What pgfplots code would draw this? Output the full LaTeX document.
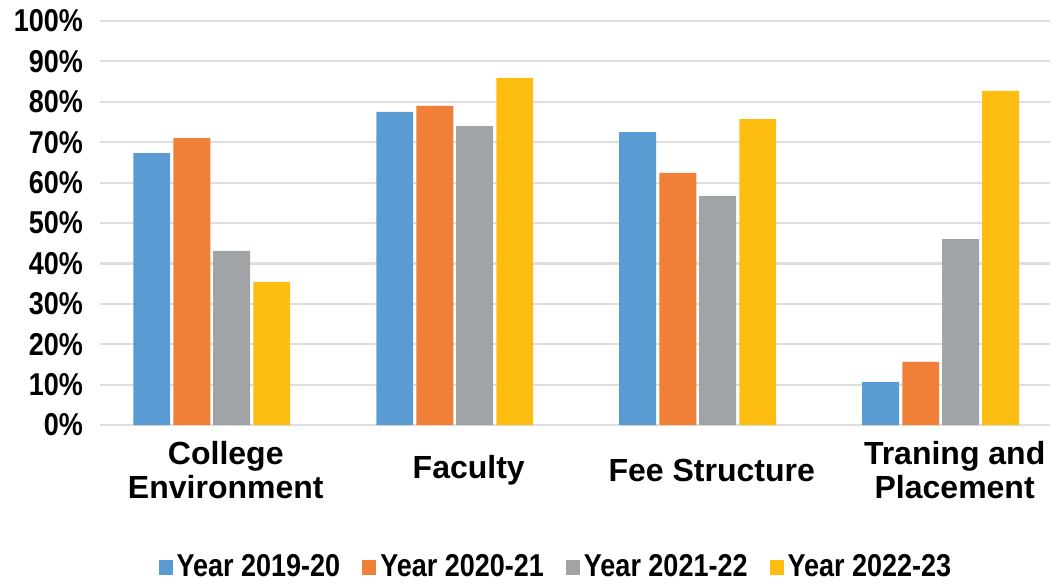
\documentclass[border=0pt]{standalone}
\usepackage{graphicx}
\usepackage{pgfplots}
\pgfplotsset{compat=1.18}
\usepackage{fontspec}
\setmainfont{Liberation Sans}
\definecolor{cblue}{HTML}{5A9BD3}
\definecolor{corange}{HTML}{F07F38}
\definecolor{cgray}{HTML}{A0A4A6}
\definecolor{cyellow}{HTML}{FDBD10}
\newcommand{\tall}[1]{\scalebox{1}[1.17]{#1}}
\begin{document}
\begin{tikzpicture}
\path (-50pt,-78pt) rectangle (476pt,212.5pt);
\begin{axis}[
  at={(0,0)}, anchor=south west,
  scale only axis, width=475pt, height=202pt,
  xmin=-0.46, xmax=3.45, ymin=0, ymax=100,
  ybar, bar width=0.152,
  legend image code/.code={\fill[#1] (0pt,-3.75pt) rectangle (7pt,3.75pt);},
  axis line style={draw=none},
  tick style={draw=none},
  ytick={0,10,...,100},
  ymajorgrids,
  major grid style={line width=1.1pt, color=black!13},
  /pgf/number format/assume math mode=true,
  yticklabel={\tall{\pgfmathprintnumber{\tick}\%}},
  yticklabel style={font=\fontsize{13.5}{14}\selectfont\bfseries, xshift=-5pt},
  xtick={0,1,2,3},
  xticklabels={{College\\Environment},Faculty,{Fee Structure},{Traning and\\Placement}},
  xticklabel style={font=\fontsize{16}{17}\selectfont\bfseries, align=center, anchor=center, yshift=-18.5pt, xshift=7pt},
  legend columns=4,
  legend style={at={(0.481,-0.3515)}, anchor=center, draw=none,
    font=\fontsize{13.5}{14}\selectfont\bfseries,
    /tikz/every even column/.append style={column sep=9pt}},
]
\addplot[fill=cblue, draw=none, bar shift=-0.247]
  coordinates {(0,67.3) (1,77.5) (2,72.5) (3,10.6)};
\addplot[fill=corange, draw=none, bar shift=-0.082]
  coordinates {(0,71.0) (1,79.0) (2,62.4) (3,15.6)};
\addplot[fill=cgray, draw=none, bar shift=0.082]
  coordinates {(0,43.1) (1,74.0) (2,56.7) (3,46.0)};
\addplot[fill=cyellow, draw=none, bar shift=0.247]
  coordinates {(0,35.4) (1,85.9) (2,75.7) (3,82.7)};
\legend{\tall{Year 2019-20}, \tall{Year 2020-21}, \tall{Year 2021-22}, \tall{Year 2022-23}}
\end{axis}
\end{tikzpicture}
\end{document}
